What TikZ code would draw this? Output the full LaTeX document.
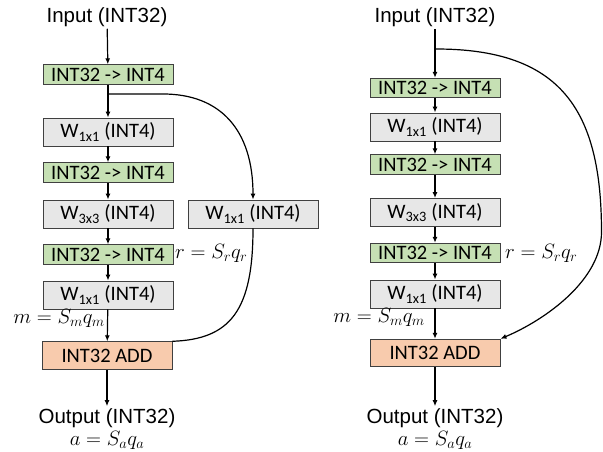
\documentclass[tikz,border=0pt]{standalone}
\usepackage{fontspec}
\setmainfont{Liberation Sans}
\newfontfamily\calib{Carlito}
\usepackage{xcolor}
\usetikzlibrary{arrows.meta}

\definecolor{convgreen}{HTML}{C6E0B4}
\definecolor{wgtgray}{HTML}{E7E7E7}
\definecolor{addorange}{HTML}{F8CBAD}

\begin{document}
\begin{tikzpicture}[x=1pt,y=-1pt,
-{Latex[length=6pt,width=5pt]},>=Latex]
     \tikzstyle{blk}=[draw=black!75,line width=0.9pt,minimum width=130pt,inner sep=0pt,font=\calib\fontsize{20.5}{24}\selectfont]
     \tikzstyle{conv}=[blk,fill=convgreen,minimum height=19.5pt]
     \tikzstyle{wgt}=[blk,fill=wgtgray,minimum height=28pt]
     \tikzstyle{addb}=[blk,fill=addorange,minimum height=27.5pt]
     \tikzstyle{lab}=[inner sep=2pt,font=\fontsize{20.5}{24}\selectfont]
     \tikzstyle{edge} = [draw,line width=1.2pt,black]
     \useasboundingbox (0,0) rectangle (603,452);

     % left block
     \node[lab] (in1) at (107,17) {Input (INT32)};
     \node[conv] (cv1) at (108,74.5) {INT32 -> INT4};
     \node[wgt] (w1) at (108,132) {W\textsubscript{1x1} (INT4)};
     \node[conv] (cv2) at (108,172.5) {INT32 -> INT4};
     \node[wgt] (w3) at (108,214) {W\textsubscript{3x3} (INT4)};
     \node[conv] (cv3) at (108,254.5) {INT32 -> INT4};
     \node[wgt] (w4) at (108,295) {W\textsubscript{1x1} (INT4)};
     \node[addb] (add1) at (107,355.5) {INT32 ADD};
     \node[wgt] (wr) at (253,214) {W\textsubscript{1x1} (INT4)};
     \node[lab] (out1) at (107,418) {Output (INT32)};
     \node[lab] (aq1) at (107,440) {$a = S_a q_a$};
     \node[lab,anchor=east] (mq1) at (107,318) {$m = S_m q_m$};
     \node[lab,anchor=west] (rq1) at (173,253) {$r = S_r q_r$};
     \coordinate (br1) at (108,94);

     \draw[edge] (in1) -- (cv1);
     \draw[edge] (cv1) -- (w1);
     \draw[edge] (w1) -- (cv2);
     \draw[edge] (cv2) -- (w3);
     \draw[edge] (w3) -- (cv3);
     \draw[edge] (cv3) -- (w4);
     \draw[edge] (w4) -- (add1);
     \draw[edge] (add1) -- (out1);
     \draw[edge] (br1) -- ++(55,0) .. controls +(57,0) and +(0,-70) .. (wr.north);
     \draw[edge,-] (wr.south) .. controls +(0,82) and +(58,-2) .. (add1.north east);

     % right block
     \node[lab] (in2) at (435,17) {Input (INT32)};
     \node[conv] (cv4) at (435,88) {INT32 -> INT4};
     \node[wgt] (w5) at (435,127) {W\textsubscript{1x1} (INT4)};
     \node[conv] (cv5) at (435,164.5) {INT32 -> INT4};
     \node[wgt] (w6) at (435,212.5) {W\textsubscript{3x3} (INT4)};
     \node[conv] (cv6) at (435,253) {INT32 -> INT4};
     \node[wgt] (w7) at (435,294) {W\textsubscript{1x1} (INT4)};
     \node[addb] (add2) at (435,353) {INT32 ADD};
     \node[lab] (out2) at (435,418) {Output (INT32)};
     \node[lab] (aq2) at (435,440) {$a = S_a q_a$};
     \node[lab,anchor=east] (mq2) at (427,317) {$m = S_m q_m$};
     \node[lab,anchor=west] (rq2) at (503,253) {$r = S_r q_r$};
     \coordinate (br2) at (436,49);
     \coordinate (rt) at (601.5,232);

     \draw[edge] (in2) -- (cv4);
     \draw[edge] (cv4) -- (w5);
     \draw[edge] (w5) -- (cv5);
     \draw[edge] (cv5) -- (w6);
     \draw[edge] (w6) -- (cv6);
     \draw[edge] (cv6) -- (w7);
     \draw[edge] (w7) -- (add2);
     \draw[edge] (add2) -- (out2);
     \draw[edge] (br2) .. controls +(125,0) and +(0,-122) .. (rt)
          .. controls +(0,48) and +(45,-19) .. (add2.north east);
\end{tikzpicture}
\end{document}
